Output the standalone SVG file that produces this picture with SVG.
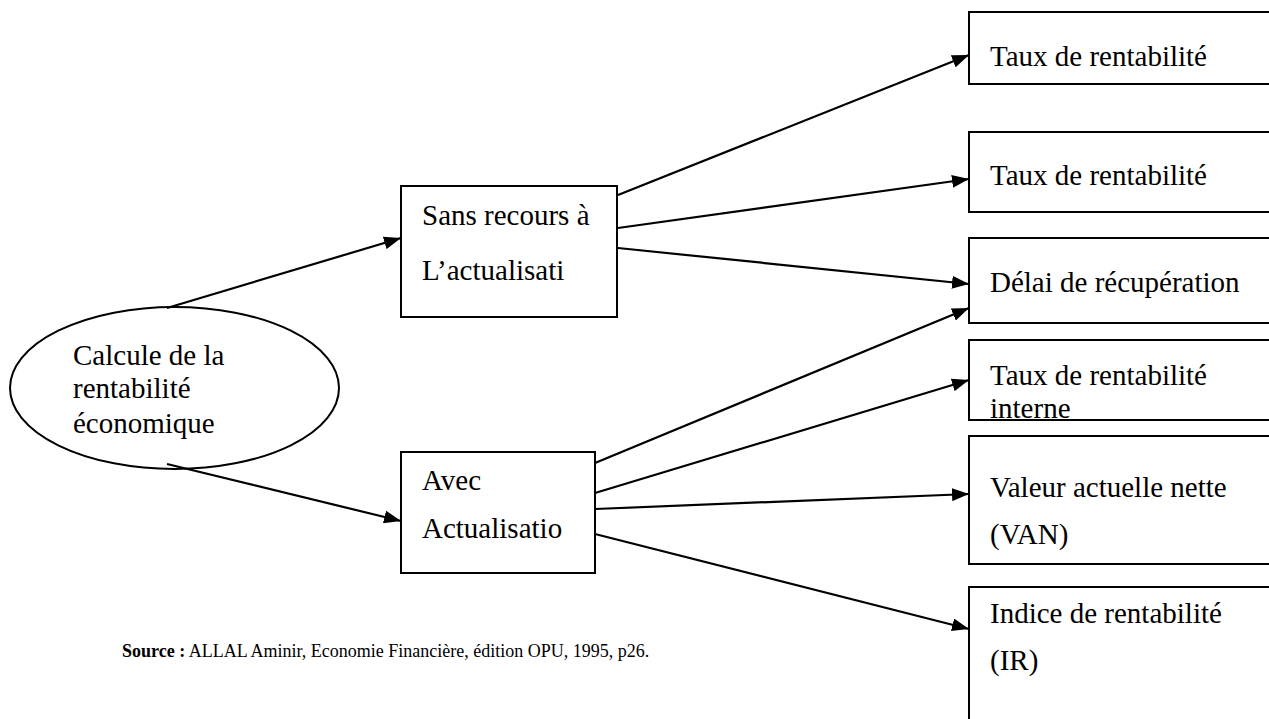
<svg xmlns="http://www.w3.org/2000/svg" width="1269" height="719" viewBox="0 0 1269 719">
<style>
.box{fill:#fff;stroke:#000;stroke-width:2}
.t{font-family:"Liberation Serif","Times New Roman",serif;font-size:29px;fill:#000}
.src{font-family:"Liberation Serif","Times New Roman",serif;font-size:18px;fill:#000}
.c{fill:none;stroke:#000;stroke-width:2.2}
</style>
<defs>
<marker id="ah" markerUnits="userSpaceOnUse" markerWidth="17" markerHeight="13" refX="17" refY="6.5" orient="auto">
<path d="M0,0 L17,6.5 L0,13 z" fill="#000"/>
</marker>
</defs>
<rect width="1269" height="719" fill="#fff"/>
<g id="n-calcule">
<ellipse cx="174.5" cy="388" rx="164.5" ry="81" fill="#fff" stroke="#000" stroke-width="2"/>
<text class="t" x="73" y="365">Calcule de la</text>
<text class="t" x="73" y="398">rentabilité</text>
<text class="t" x="73" y="433">économique</text>
</g>
<g id="n-sans">
<rect class="box" x="401" y="186" width="216" height="131"/>
<text class="t" x="422" y="225">Sans recours à</text>
<text class="t" x="422" y="280">L’actualisati</text>
</g>
<g id="n-avec">
<rect class="box" x="401" y="452" width="194" height="121"/>
<text class="t" x="422" y="490">Avec</text>
<text class="t" x="422" y="538">Actualisatio</text>
</g>
<g id="n-taux1">
<rect class="box" x="969" y="12" width="320" height="72"/>
<text class="t" x="990" y="66">Taux de rentabilité</text>
</g>
<g id="n-taux2">
<rect class="box" x="969" y="132" width="320" height="80"/>
<text class="t" x="990" y="185">Taux de rentabilité</text>
</g>
<g id="n-delai">
<rect class="box" x="969" y="238" width="320" height="85"/>
<text class="t" x="990" y="292">Délai de récupération</text>
</g>
<g id="n-tri">
<rect class="box" x="969" y="340" width="320" height="80"/>
<text class="t" x="990" y="385">Taux de rentabilité</text>
<text class="t" x="990" y="418">interne</text>
</g>
<g id="n-van">
<rect class="box" x="969" y="436" width="320" height="128"/>
<text class="t" x="990" y="497">Valeur actuelle nette</text>
<text class="t" x="990" y="544">(VAN)</text>
</g>
<g id="n-ir">
<rect class="box" x="969" y="587" width="320" height="150"/>
<text class="t" x="990" y="623">Indice de rentabilité</text>
<text class="t" x="990" y="670">(IR)</text>
</g>
<g id="connectors">
<line class="c" x1="167" y1="308" x2="401" y2="238" marker-end="url(#ah)"/>
<line class="c" x1="167" y1="464" x2="401" y2="521" marker-end="url(#ah)"/>
<line class="c" x1="618" y1="195" x2="969" y2="55" marker-end="url(#ah)"/>
<line class="c" x1="618" y1="228" x2="969" y2="179" marker-end="url(#ah)"/>
<line class="c" x1="618" y1="248" x2="969" y2="284" marker-end="url(#ah)"/>
<line class="c" x1="595" y1="463" x2="969" y2="308" marker-end="url(#ah)"/>
<line class="c" x1="595" y1="493" x2="969" y2="380" marker-end="url(#ah)"/>
<line class="c" x1="595" y1="509" x2="969" y2="494" marker-end="url(#ah)"/>
<line class="c" x1="595" y1="534" x2="969" y2="629" marker-end="url(#ah)"/>
</g>
<text class="src" x="122" y="657"><tspan font-weight="bold">Source :</tspan> ALLAL Aminir, Economie Financière, édition OPU, 1995, p26.</text>
</svg>
